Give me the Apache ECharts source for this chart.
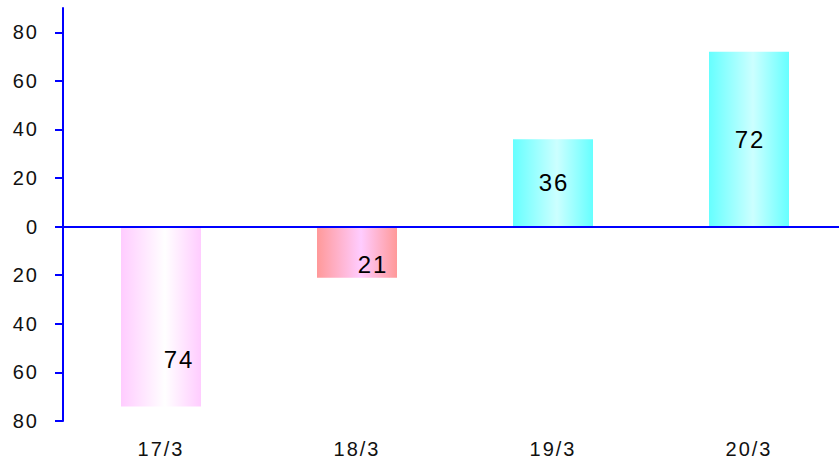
<!DOCTYPE html>
<html>
<head>
<meta charset="utf-8">
<script src="https://cdn.jsdelivr.net/npm/echarts@6/dist/echarts.min.js"></script>
<style>
  html, body { margin: 0; padding: 0; background: #fff; }
  #chart { width: 839px; height: 465px; }
  #chart text { letter-spacing: 2px; }
</style>
</head>
<body>
<div id="chart"></div>
<script>
// data
const categories = ['17/3', '18/3', '19/3', '20/3']
const values = [-74, -21, 36, 72]
const yTicks = [-80, -60, -40, -20, 0, 20, 40, 60, 80]

// bar gradients (edge, middle)
const barColors = [
  ['#ffccff', '#ffffff'],
  ['#ff9999', '#ffccff'],
  ['#66ffff', '#ccffff'],
  ['#66ffff', '#ccffff']
]
// label shift for negative bars
const labelShift = [[18, 43], [16, 12], [1, 0], [1, 0]]

function grad(c) {
  return new echarts.graphic.LinearGradient(0, 0, 1, 0, [
    { offset: 0, color: c[0] },
    { offset: 0.55, color: c[1] },
    { offset: 1, color: c[0] }
  ])
}

const seriesData = values.map((v, i) => ({
  value: v,
  itemStyle: { color: grad(barColors[i]) },
  label: { offset: labelShift[i] }
}))

const chart = echarts.init(document.getElementById('chart'), null, { renderer: 'svg' })
chart.setOption({
  animation: false,
  grid: { left: 63, width: 784, top: 8, bottom: 44, outerBoundsMode: 'none', containLabel: false },
  xAxis: {
    type: 'category',
    data: categories,
    axisLine: { show: false },
    axisTick: { show: false },
    axisLabel: {
      margin: 18,
      fontSize: 20,
      color: '#111',
      fontFamily: 'Liberation Sans'
    }
  },
  yAxis: {
    type: 'value',
    min: -80,
    max: 90,
    interval: 20,
    splitLine: { show: false },
    axisLine: { show: true, lineStyle: { color: '#0000ff', width: 2 } },
    axisTick: {
      show: true,
      length: 8,
      customValues: yTicks,
      lineStyle: { color: '#0000ff', width: 2 }
    },
    axisLabel: {
      margin: 24,
      fontSize: 20,
      color: '#111',
      fontFamily: 'Liberation Sans',
      customValues: yTicks,
      formatter: v => String(Math.abs(v))
    }
  },
  series: [{
    type: 'bar',
    data: seriesData,
    barWidth: 80,
    label: {
      show: true,
      position: 'inside',
      color: '#000',
      formatter: p => '{v|' + Math.abs(p.value) + '}',
      rich: {
        v: { fontSize: 24, fontFamily: 'Liberation Sans', color: '#000' }
      }
    },
    markLine: {
      silent: true,
      symbol: ['none', 'none'],
      label: { show: false },
      lineStyle: { color: '#0000ff', width: 2, type: 'solid' },
      data: [{ yAxis: 0 }]
    }
  }]
})
</script>
</body>
</html>
